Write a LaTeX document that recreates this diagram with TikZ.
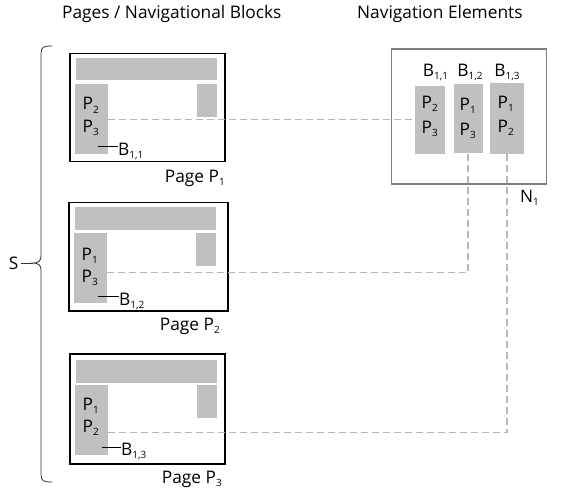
\documentclass[tikz,border=0pt]{standalone}
\usepackage{fontspec}
\setmainfont{Open Sans}
\definecolor{blk}{HTML}{C0C0C0}
\definecolor{dsh}{HTML}{B8B8B8}
\definecolor{navb}{HTML}{808080}
\definecolor{brc}{HTML}{303030}
\newcommand{\ms}[1]{\raisebox{-3pt}{\fontsize{10}{10}\selectfont #1}}
\tikzset{
  pagebox/.style={draw=black, line width=1.7pt, fill=white, inner sep=0pt, anchor=north west},
  gblk/.style={fill=blk, inner sep=0pt, anchor=north west},
  navbox/.style={draw=navb, line width=1.3pt, inner sep=0pt, anchor=north west},
  dline/.style={draw=dsh, line width=1.5pt, dash pattern=on 6.5pt off 4.5pt},
  txt/.style={font=\fontsize{17.3}{19}\selectfont, inner sep=0pt},
  ptxt/.style={txt, anchor=base west},
  ctxt/.style={txt, anchor=base},
  thinline/.style={draw=black, line width=0.9pt},
}
\begin{document}
\begin{tikzpicture}[x=1pt,y=-1pt]
\useasboundingbox (0,0) rectangle (573,495);
% headers
\node[ptxt] (h1) at (62,18.3) {Pages / Navigational Blocks};
\node[ptxt] (h2) at (357,18.3) {Navigation Elements};
% page 1
\node[pagebox, minimum width=155pt, minimum height=108pt] (p1) at (69,52.7) {};
\node[gblk, minimum width=141pt, minimum height=22pt] (bar1) at (76,58) {};
\node[gblk, minimum width=33pt, minimum height=70pt] (col1) at (75,84) {};
\node[gblk, minimum width=20pt, minimum height=33pt] (sq1) at (197,84) {};
\node[ptxt] (p1a) at (82.5,110) {P\ms{2}};
\node[ptxt] (p1b) at (82.5,132.5) {P\ms{3}};
\node[ptxt] (b1) at (118,155) {B\ms{1,1}};
\coordinate (k1) at (98,146);
\draw[thinline] (k1) -- (k1 -| b1.west);
\node[txt, anchor=base east] (pl1) at (225,182) {Page P\ms{1}};
% page 2
\node[pagebox, minimum width=159pt, minimum height=108.3pt] (p2) at (68,201.7) {};
\node[gblk, minimum width=141pt, minimum height=23.3pt] (bar2) at (75,206.7) {};
\node[gblk, minimum width=33pt, minimum height=70pt] (col2) at (74,233) {};
\node[gblk, minimum width=20pt, minimum height=32.7pt] (sq2) at (196,233) {};
\node[ptxt] (p2a) at (81.5,260.7) {P\ms{1}};
\node[ptxt] (p2b) at (81.5,282) {P\ms{3}};
\node[ptxt] (b2) at (119,305) {B\ms{1,2}};
\coordinate (k2) at (98,296);
\draw[thinline] (k2) -- (k2 -| b2.west);
\node[txt, anchor=base east] (pl2) at (220,330.5) {Page P\ms{2}};
% page 3
\node[pagebox, minimum width=155pt, minimum height=110pt] (p3) at (69,353) {};
\node[gblk, minimum width=141pt, minimum height=22.7pt] (bar3) at (76,360) {};
\node[gblk, minimum width=33pt, minimum height=70pt] (col3) at (75,385) {};
\node[gblk, minimum width=20pt, minimum height=32.7pt] (sq3) at (197,385) {};
\node[ptxt] (p3a) at (82.5,410.7) {P\ms{1}};
\node[ptxt] (p3b) at (82.5,432.3) {P\ms{2}};
\node[ptxt] (b3) at (121,455.7) {B\ms{1,3}};
\coordinate (k3) at (101.7,447);
\draw[thinline] (k3) -- (k3 -| b3.west);
\node[txt, anchor=base east] (pl3) at (222,483) {Page P\ms{3}};
% navigation element
\node[navbox, minimum width=155pt, minimum height=135pt] (nav) at (391,48.3) {};
\node[gblk, minimum width=29.3pt, minimum height=67.6pt] (nb1) at (415,85.7) {};
\node[gblk, minimum width=29.4pt, minimum height=68.4pt] (nb2) at (453.3,84.3) {};
\node[gblk, minimum width=33.3pt, minimum height=71.3pt] (nb3) at (490,82.7) {};
\node[ctxt] (nl1) at (435.5,76.7) {B\ms{1,1}};
\node[ctxt] (nl2) at (470,76.7) {B\ms{1,2}};
\node[ctxt] (nl3) at (507,76.7) {B\ms{1,3}};
\node[ptxt] (n1a) at (421.5,108.3) {P\ms{2}};
\node[ptxt] (n1b) at (421.5,133.3) {P\ms{3}};
\node[ptxt] (n2a) at (459.5,110.5) {P\ms{1}};
\node[ptxt] (n2b) at (459.5,135) {P\ms{3}};
\node[ptxt] (n3a) at (497.5,108.5) {P\ms{1}};
\node[ptxt] (n3b) at (497.5,132.5) {P\ms{2}};
\node[ptxt] (nn) at (520,202) {N\ms{1}};
% dashed connectors
\coordinate (d1) at (108,119.3);
\coordinate (d2) at (107,272.7);
\coordinate (d3) at (108,432.7);
\draw[dline] (d1) -- (d1 -| nb1.west);
\draw[dline] (d2) -- (d2 -| nb2.south) -- (nb2.south);
\draw[dline] (d3) -- (d3 -| nb3.south) -- (nb3.south);
% brace
\node[txt, anchor=center] (s) at (13.5,263) {S};
\coordinate (tip) at (33,263);
\draw[draw=brc, line width=0.8pt] (52,46) .. controls (44,46) and (41,47) .. (41,53)
  -- (41,256) .. controls (41,261) and (38,263) .. (tip)
  .. controls (38,263) and (41,265) .. (41,270)
  -- (41,475) .. controls (41,481) and (44,482) .. (52,482);
\draw[draw=brc, line width=0.8pt] (s.east) ++(3,0) coordinate (se) (se) -- (tip);
\end{tikzpicture}
\end{document}
